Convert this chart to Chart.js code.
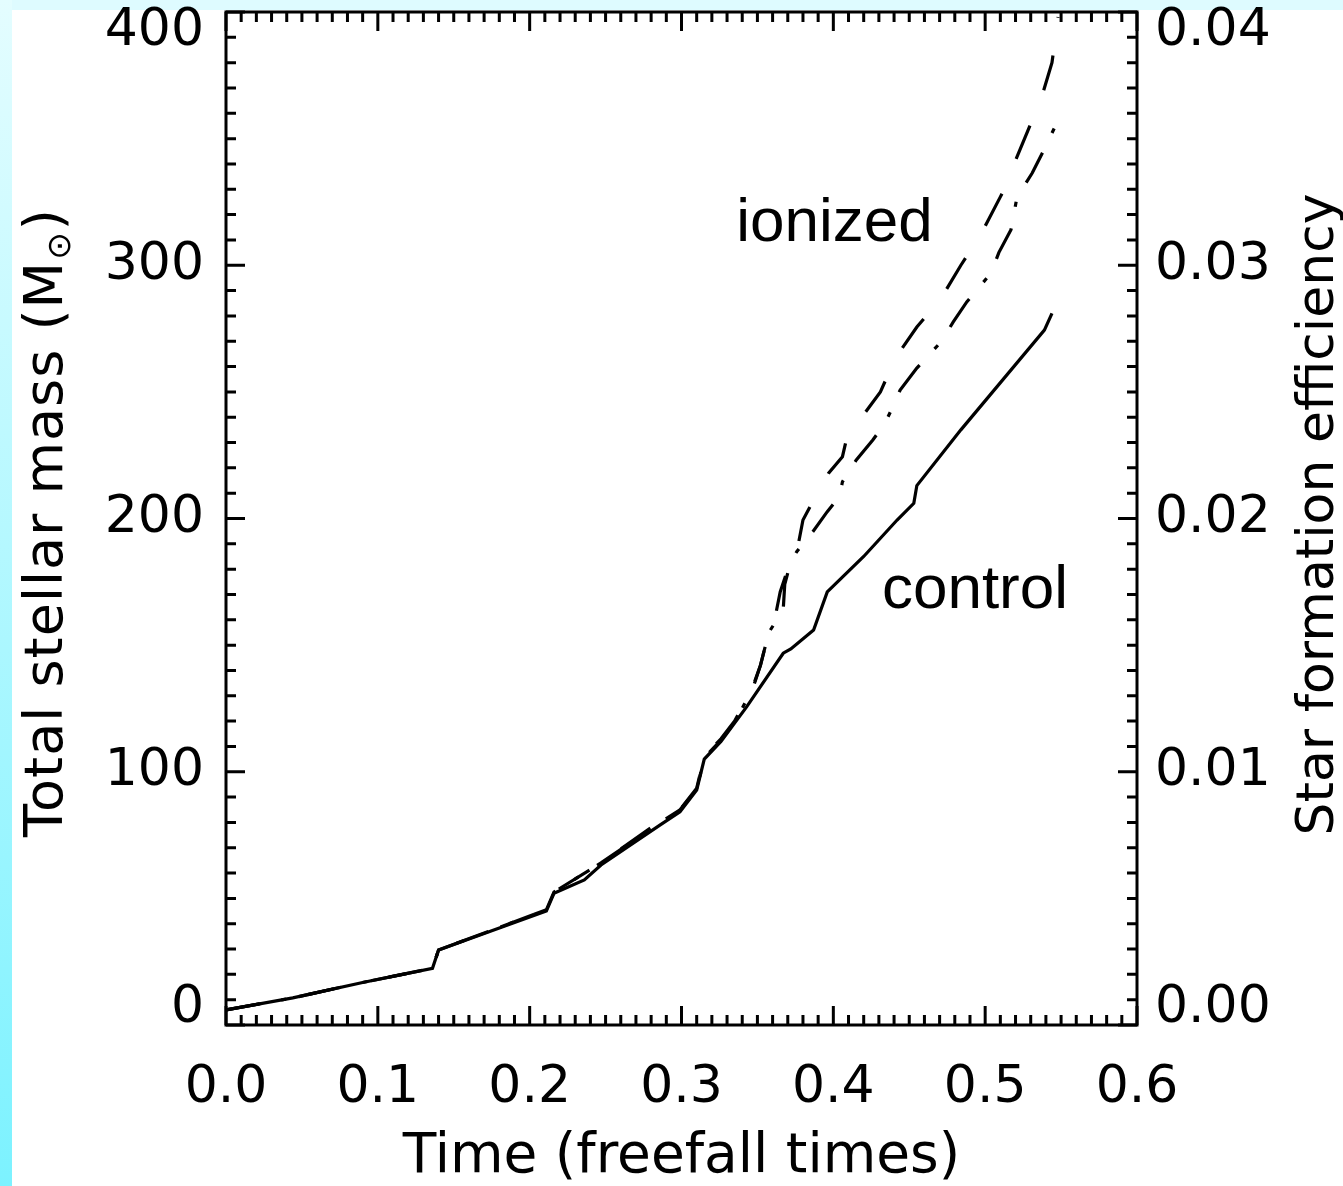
<!DOCTYPE html>
<html>
<head>
<meta charset="utf-8">
<title>Total stellar mass</title>
<script src="https://cdn.jsdelivr.net/npm/chart.js@4.4.1/dist/chart.umd.min.js"></script>
<style>
  html, body { margin: 0; padding: 0; }
  body {
    width: 1343px;
    height: 1186px;
    overflow: hidden;
    background:
      linear-gradient(to bottom, #e4fdff, #7cf2ff) 0 0 / 12px 100% no-repeat,
      linear-gradient(#defbff, #defbff) 0 0 / 100% 10px no-repeat,
      #ffffff;
  }
  #wrap { position: relative; width: 1343px; height: 1186px; }
</style>
</head>
<body>
<div id="wrap"><canvas id="sfe"></canvas></div>
<script>
'use strict';

// axis ticks
const timeTicks = ['0.0', '0.1', '0.2', '0.3', '0.4', '0.5', '0.6'];
const massTicks = [0, 100, 200, 300, 400];
const sfeTicks = ['0.00', '0.01', '0.02', '0.03', '0.04'];

// control run (solid)
const controlTime = [0.000, 0.044, 0.090, 0.136, 0.140, 0.211, 0.216, 0.236, 0.247, 0.286,
  0.299, 0.310, 0.315, 0.326, 0.343, 0.367, 0.372, 0.387, 0.396, 0.420,
  0.442, 0.453, 0.455, 0.484, 0.539, 0.544];
const controlMass = [6, 10.7, 16.8, 22.4, 29.6, 45, 52, 57.3, 63.2, 79,
  84.2, 92.8, 105, 112, 125.7, 146.8, 148.5, 156, 171, 185,
  199.4, 206, 213, 235, 274.4, 281];

// ionized run (dashed)
const dashTime = [0.000, 0.044, 0.090, 0.136, 0.140, 0.211, 0.216, 0.247, 0.286, 0.299,
  0.310, 0.315, 0.326, 0.335, 0.347, 0.352, 0.3575, 0.362, 0.365, 0.372,
  0.376, 0.380, 0.3905, 0.397, 0.406, 0.409, 0.415, 0.431, 0.4365, 0.440,
  0.455, 0.471, 0.484, 0.497, 0.510, 0.517, 0.519, 0.528, 0.537, 0.544,
  0.5465, 0.548];
const dashMass = [6, 10.7, 16.8, 22.4, 29.6, 45.5, 52.5, 64, 80.5, 85,
  93.5, 106, 113, 120, 133.6, 142, 155, 162, 171, 183.6,
  187, 199.4, 211.2, 218, 224.4, 232.3, 237, 250, 257.4, 262.6,
  275.6, 287, 300, 312, 327, 335, 340, 353, 366, 380,
  391, 398];

// ionized run (dash-dot)
const dotTime = [0.000, 0.044, 0.090, 0.136, 0.140, 0.211, 0.216, 0.247, 0.286, 0.299,
  0.310, 0.315, 0.326, 0.335, 0.347, 0.352, 0.3575, 0.367, 0.368, 0.372,
  0.376, 0.3865, 0.396, 0.404, 0.406, 0.415, 0.426, 0.434, 0.4375, 0.444,
  0.455, 0.471, 0.479, 0.488, 0.504, 0.509, 0.517, 0.521, 0.531, 0.538,
  0.5475];
const dotMass = [6, 10.7, 16.8, 22.4, 29.6, 45.5, 52.5, 64, 80, 85,
  93, 105.5, 112.5, 119.5, 133, 142, 155, 164, 174, 183,
  187, 194.8, 202.7, 208.6, 214.5, 223, 231, 237.6, 242, 250.7,
  259.4, 269.8, 277.6, 285.6, 297, 305, 314, 327, 336.4, 344.7,
  356.6];

const FONT = "'DejaVu Sans', sans-serif";
const LABEL_FONT = "'Liberation Sans', Arial, sans-serif";

function series(label, times, masses, dash) {
  return {
    label,
    data: times.map((t, i) => ({ x: t, y: masses[i] })),
    borderColor: '#000',
    borderWidth: 3.2,
    borderDash: dash,
    pointRadius: 0,
    tension: 0,
    fill: false,
  };
}

// IDL-style box: inward ticks on all four sides, y tick labels, side titles, run labels
const idlFrame = {
  id: 'idlFrame',
  afterDatasetsDraw(chart) {
    const { ctx, chartArea: a, scales } = chart;
    const { x, y, y2 } = scales;
    ctx.save();
    ctx.strokeStyle = '#000';
    ctx.lineWidth = 3;
    ctx.lineCap = 'butt';
    ctx.strokeRect(a.left, a.top, a.right - a.left, a.bottom - a.top);

    ctx.beginPath();
    for (let i = 0; i <= 60; i++) {
      const px = x.getPixelForValue(i / 100);
      const len = i % 10 === 0 ? 19 : 10;
      ctx.moveTo(px, a.bottom); ctx.lineTo(px, a.bottom - len);
      ctx.moveTo(px, a.top); ctx.lineTo(px, a.top + len);
    }
    for (let i = 0; i <= 40; i++) {
      const len = i % 10 === 0 ? 19 : 10;
      const pl = y.getPixelForValue(i * 10);
      const pr = y2.getPixelForValue(i / 1000);
      ctx.moveTo(a.left, pl); ctx.lineTo(a.left + len, pl);
      ctx.moveTo(a.right, pr); ctx.lineTo(a.right - len, pr);
    }
    ctx.stroke();

    // tick labels, kept inside the box at the ends
    ctx.fillStyle = '#000';
    ctx.font = `52px ${FONT}`;
    ctx.textBaseline = 'middle';
    const clampY = (p) => Math.min(Math.max(p, a.top + 19), a.bottom - 17);
    ctx.textAlign = 'right';
    massTicks.forEach((v) => {
      ctx.fillText(String(v), a.left - 22, clampY(y.getPixelForValue(v)));
    });
    ctx.textAlign = 'left';
    sfeTicks.forEach((s) => {
      ctx.fillText(s, a.right + 18, clampY(y2.getPixelForValue(Number(s))));
    });

    // side titles, both reading upwards
    const midY = (a.top + a.bottom) / 2;
    ctx.textBaseline = 'alphabetic';
    ctx.save();
    ctx.translate(a.left - 164, midY + 4);
    ctx.rotate(-Math.PI / 2);
    ctx.letterSpacing = '1px';
    const main = 'Total stellar mass (M';
    ctx.font = `54px ${FONT}`;
    const w1 = ctx.measureText(main).width;
    const w3 = ctx.measureText(')').width;
    ctx.font = `33px ${FONT}`;
    const w2 = ctx.measureText('\u2299').width + 2;
    const x0 = -(w1 + w2 + w3) / 2;
    ctx.textAlign = 'left';
    ctx.font = `54px ${FONT}`;
    ctx.fillText(main, x0, 0);
    ctx.font = `33px ${FONT}`;
    ctx.fillText('\u2299', x0 + w1 + 1, 8);
    ctx.font = `54px ${FONT}`;
    ctx.fillText(')', x0 + w1 + w2, 0);
    ctx.restore();

    ctx.save();
    ctx.translate(a.right + 196, midY - 4);
    ctx.rotate(-Math.PI / 2);
    ctx.textAlign = 'center';
    ctx.font = `52px ${FONT}`;
    ctx.fillText('Star formation efficiency', 0, 0);
    ctx.restore();

    // run labels, anchored in data coordinates
    ctx.font = `62px ${LABEL_FONT}`;
    ctx.textAlign = 'left';
    ctx.fillText('ionized', x.getPixelForValue(0.336), y.getPixelForValue(309.6));
    ctx.fillText('control', x.getPixelForValue(0.432), y.getPixelForValue(164.7));
    ctx.restore();
  },
};

Chart.defaults.font.family = FONT;
Chart.defaults.color = '#000';

new Chart(document.getElementById('sfe'), {
  type: 'line',
  data: {
    datasets: [
      series('control', controlTime, controlMass, []),
      series('ionized', dashTime, dashMass, [36, 38]),
      series('ionized, second run', dotTime, dotMass, [34, 22, 5, 22]),
    ],
  },
  options: {
    responsive: true,
    maintainAspectRatio: false,
    animation: false,
    layout: { padding: { top: 12 } },
    plugins: {
      legend: { display: false },
      tooltip: { enabled: false },
    },
    scales: {
      x: {
        type: 'linear',
        position: 'bottom',
        min: 0,
        max: 0.6,
        grid: { display: false, drawTicks: false },
        border: { display: false },
        ticks: {
          stepSize: 0.1,
          padding: 32,
          color: '#000',
          font: { size: 52 },
          callback: (v, i) => timeTicks[i],
        },
        title: {
          display: true,
          text: 'Time (freefall times)',
          color: '#000',
          font: { size: 55 },
          padding: { top: 0, bottom: -5 },
        },
        afterFit: (s) => { s.height = 161; },
      },
      y: {
        position: 'left',
        min: 0,
        max: 400,
        grid: { display: false, drawTicks: false },
        border: { display: false },
        ticks: { display: false, stepSize: 100 },
        afterFit: (s) => { s.width = 226; },
      },
      y2: {
        position: 'right',
        min: 0,
        max: 0.04,
        grid: { display: false, drawTicks: false },
        border: { display: false },
        ticks: { display: false, stepSize: 0.01 },
        afterFit: (s) => { s.width = 206; },
      },
    },
  },
  plugins: [idlFrame],
});
</script>
</body>
</html>
